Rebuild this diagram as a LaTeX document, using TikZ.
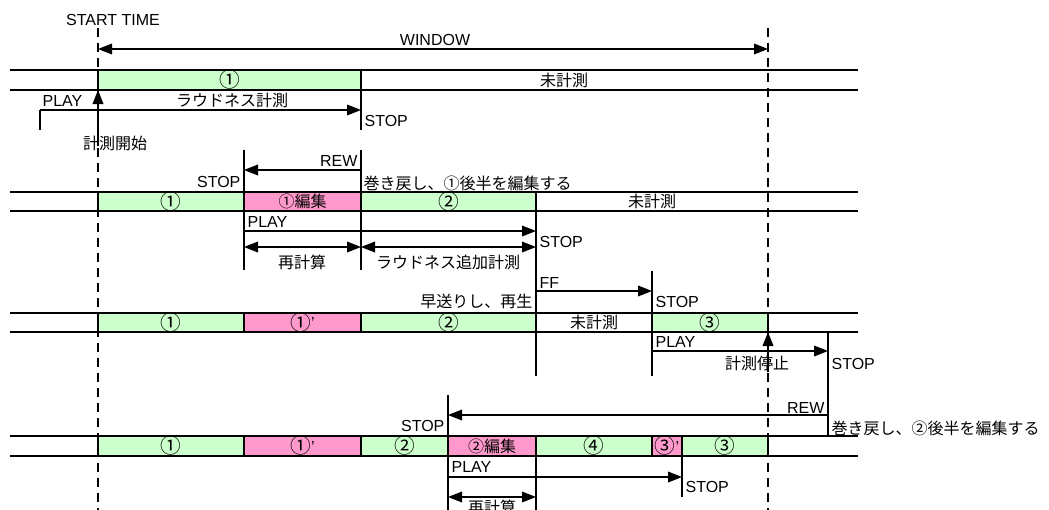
\documentclass[tikz,border=0pt]{standalone}
\usepackage{fontspec}
\setmainfont{Liberation Sans}
\newfontfamily\jp{Noto Sans CJK JP}
\newcommand\cnum[1]{\raisebox{1.6pt}{\jp\fontsize{15.5pt}{14pt}\selectfont #1}}
\newcommand\pr{\raisebox{2.5pt}{’}}
\usetikzlibrary{arrows.meta}
\definecolor{lg}{RGB}{204,255,204}
\definecolor{pk}{RGB}{255,153,204}
\tikzset{
  track/.style={line width=1.8pt},
  segbox/.style={draw,line width=1.8pt},
  tick/.style={line width=1.1pt},
  arr/.style={line width=1.1pt,-{Triangle[length=10.5pt,width=8pt]}},
  darr/.style={line width=1.1pt,{Triangle[length=10.5pt,width=8pt]}-{Triangle[length=10.5pt,width=8pt]}},
  vdash/.style={line width=2pt,dash pattern=on 6.75pt off 4.5pt},
  lbl/.style={inner sep=1pt},
}
\begin{document}
\begin{tikzpicture}[x=0.75pt,y=-0.75pt,font=\fontsize{12pt}{14pt}\selectfont]
\useasboundingbox (0,0) rectangle (1049,510);
% ---------- row 1 ----------
\path[segbox,fill=lg] (98,70) rectangle (361,90);
\node (r1a) at (229.5,80) {\cnum{①}};
\node (r1u) at (564,80) {\jp 未計測};
% ---------- row 2 ----------
\path[segbox,fill=lg] (98,192) rectangle (244,211);
\path[segbox,fill=pk] (244,192) rectangle (361,211);
\path[segbox,fill=lg] (361,192) rectangle (536,211);
\node (r2a) at (171,201.5) {\cnum{①}};
\node (r2b) at (302.5,201.5) {\jp ①編集};
\node (r2c) at (448.5,201.5) {\cnum{②}};
\node (r2u) at (652,201.5) {\jp 未計測};
% ---------- row 3 ----------
\path[segbox,fill=lg] (98,313) rectangle (244,332);
\path[segbox,fill=pk] (244,313) rectangle (361,332);
\path[segbox,fill=lg] (361,313) rectangle (536,332);
\path[segbox,fill=lg] (652,313) rectangle (768,332);
\node (r3a) at (171,322.5) {\cnum{①}};
\node (r3b) at (302.5,322.5) {\cnum{①}\pr};
\node (r3c) at (448.5,322.5) {\cnum{②}};
\node (r3u) at (594,322.5) {\jp 未計測};
\node (r3d) at (710,322.5) {\cnum{③}};
% ---------- row 4 ----------
\path[segbox,fill=lg] (98,436) rectangle (244,456);
\path[segbox,fill=pk] (244,436) rectangle (361,456);
\path[segbox,fill=lg] (361,436) rectangle (448,456);
\path[segbox,fill=pk] (448,436) rectangle (536,456);
\path[segbox,fill=lg] (536,436) rectangle (652,456);
\path[segbox,fill=pk] (652,436) rectangle (682,456);
\path[segbox,fill=lg] (682,436) rectangle (768,456);
\node (r4a) at (171,446) {\cnum{①}};
\node (r4b) at (302.5,446) {\cnum{①}\pr};
\node (r4c) at (404.5,446) {\cnum{②}};
\node (r4d) at (492,446) {\jp ②編集};
\node (r4e) at (594,446) {\cnum{④}};
\node[inner sep=0pt] (r4f) at (667,446) {\cnum{③}\pr};
\node (r4g) at (725,446) {\cnum{③}};
% ---------- track lines ----------
\foreach \yy in {70,90,192,211,313,332,436,456}
  \draw[track] (10,\yy) -- (858,\yy);
% ---------- window ----------
\coordinate (ws) at (98,28);
\coordinate (we) at (768,28);
\coordinate (wsb) at (98,510);
\coordinate (web) at (768,510);
\draw[vdash] (ws) -- (wsb);
\draw[vdash] (we) -- (web);
\node (st) at (113,20) {START TIME};
\coordinate (wa) at (98,49);
\coordinate (wb) at (768,49);
\draw[darr] (wa) -- (wb);
\node (win) at (435,40) {WINDOW};
% ---------- row 1 controls ----------
\coordinate (p1s) at (40,110);
\coordinate (p1sb) at (40,130);
\coordinate (p1e) at (361,110);
\coordinate (s1t) at (361,90);
\coordinate (s1b) at (361,130);
\draw[tick] (p1s) -- (p1sb);
\draw[tick] (s1t) -- (s1b);
\draw[arr] (p1s) -- (p1e);
\node[lbl,anchor=west] (play1) at (41,101) {PLAY};
\node (ld1) at (232,100) {\jp ラウドネス計測};
\node[lbl,anchor=west] (stop1) at (363,121) {STOP};
\coordinate (k1b) at (98,146);
\coordinate (k1t) at (98,90);
\draw[arr] (k1b) -- (k1t);
\node (kst) at (115,143) {\jp 計測開始};
% ---------- row 2 controls ----------
\coordinate (a2t) at (244,150);
\coordinate (a2b) at (244,270);
\coordinate (b2t) at (361,150);
\coordinate (b2b) at (361,270);
\draw[tick] (a2t) -- (a2b);
\draw[tick] (b2t) -- (b2b);
\coordinate (rw2s) at (361,170);
\coordinate (rw2e) at (244,170);
\draw[arr] (rw2s) -- (rw2e);
\node[lbl,anchor=east] (rew2) at (359,161) {REW};
\node[lbl,anchor=east] (stop2a) at (242,182) {STOP};
\node[lbl,anchor=west] (note2) at (362,183) {\jp 巻き戻し、①後半を編集する};
\coordinate (p2s) at (244,231);
\coordinate (p2e) at (536,231);
\draw[arr] (p2s) -- (p2e);
\node[lbl,anchor=west] (play2) at (246,222) {PLAY};
\coordinate (c2t) at (536,192);
\coordinate (c2b) at (536,376);
\draw[tick] (c2t) -- (c2b);
\node[lbl,anchor=west] (stop2b) at (538,242) {STOP};
\coordinate (d2a) at (244,247);
\coordinate (d2b) at (361,247);
\coordinate (d2c) at (536,247);
\draw[darr] (d2a) -- (d2b);
\draw[darr] (d2b) -- (d2c);
\node (re2) at (302,262) {\jp 再計算};
\node (ad2) at (448,262) {\jp ラウドネス追加計測};
% ---------- row 3 controls ----------
\node[lbl,anchor=east] (ff3n) at (534,301) {\jp 早送りし、再生};
\coordinate (f3s) at (536,291);
\coordinate (f3e) at (652,291);
\draw[arr] (f3s) -- (f3e);
\node[lbl,anchor=west] (ff3) at (538,283) {FF};
\coordinate (e3t) at (652,271);
\coordinate (e3b) at (652,376);
\draw[tick] (e3t) -- (e3b);
\node[lbl,anchor=west] (stop3a) at (654,302) {STOP};
\coordinate (p3s) at (652,351);
\coordinate (p3e) at (828,351);
\draw[arr] (p3s) -- (p3e);
\node[lbl,anchor=west] (play3) at (654,342) {PLAY};
\coordinate (g3t) at (828,332);
\coordinate (g3b) at (828,437);
\draw[tick] (g3t) -- (g3b);
\node[lbl,anchor=west] (stop3b) at (830,364) {STOP};
\coordinate (k3b) at (768,372);
\coordinate (k3t) at (768,332);
\draw[arr] (k3b) -- (k3t);
\node (kend) at (757,363) {\jp 計測停止};
% ---------- row 4 controls ----------
\coordinate (rw4s) at (828,415);
\coordinate (rw4e) at (448,415);
\draw[arr] (rw4s) -- (rw4e);
\node[lbl,anchor=east] (rew4) at (826,408) {REW};
\node[lbl,anchor=west] (note4) at (830,428) {\jp 巻き戻し、②後半を編集する};
\coordinate (h4t) at (448,395);
\coordinate (h4b) at (448,510);
\draw[tick] (h4t) -- (h4b);
\node[lbl,anchor=east] (stop4a) at (446,426) {STOP};
\coordinate (i4t) at (536,456);
\coordinate (i4b) at (536,510);
\draw[tick] (i4t) -- (i4b);
\coordinate (p4s) at (448,477);
\coordinate (p4e) at (682,477);
\draw[arr] (p4s) -- (p4e);
\node[lbl,anchor=west] (play4) at (450,467) {PLAY};
\coordinate (j4t) at (682,456);
\coordinate (j4b) at (682,497);
\draw[tick] (j4t) -- (j4b);
\node[lbl,anchor=west] (stop4b) at (684,487) {STOP};
\coordinate (d4a) at (448,497);
\coordinate (d4b) at (536,497);
\draw[darr] (d4a) -- (d4b);
\node (re4) at (492,507) {\jp 再計算};
\end{tikzpicture}
\end{document}
